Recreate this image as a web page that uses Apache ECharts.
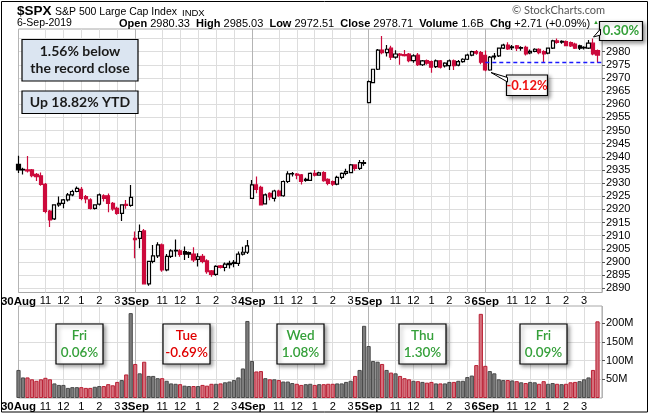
<!DOCTYPE html>
<html>
<head>
<meta charset="utf-8">
<title>$SPX 15 minute</title>
<script src="https://cdn.jsdelivr.net/npm/echarts@6/dist/echarts.min.js"></script>
<style>
  html, body { margin: 0; padding: 0; background: #fff; }
  #chart { width: 650px; height: 415px; }
</style>
</head>
<body>
<div id="chart"></div>
<script>
// Day / hour labels along the time axis (26 bars of 15 minutes per session)
const dayLabels = ['30Aug', '3Sep', '4Sep', '5Sep', '6Sep'];
const hourLabels = { 6: '11', 10: '12', 14: '1', 18: '2', 22: '3' };
const barsPerDay = 26;
const closeAug29 = 2924.58;

// 15-minute candles: [open, close, low, high]
const ohlcAug30 = [
    [2937.1, 2935.0, 2933.8, 2940.4], [2935.2, 2935.0, 2933.3, 2935.8], [2935.0, 2934.6, 2934.0, 2940.3],
    [2935.0, 2932.8, 2932.2, 2935.4], [2933.3, 2932.5, 2930.8, 2933.8], [2932.8, 2929.5, 2929.0, 2934.0],
    [2929.5, 2919.2, 2918.5, 2930.0], [2919.4, 2916.0, 2913.3, 2919.8], [2916.4, 2921.7, 2916.0, 2922.0],
    [2921.7, 2922.3, 2921.0, 2924.9], [2922.3, 2923.6, 2920.4, 2924.0], [2923.6, 2925.5, 2923.0, 2926.2],
    [2925.5, 2926.8, 2925.0, 2927.5], [2926.8, 2928.0, 2926.5, 2928.7], [2927.6, 2924.2, 2923.5, 2928.5],
    [2924.9, 2924.0, 2922.3, 2925.5], [2923.6, 2920.4, 2920.0, 2924.2], [2920.4, 2921.7, 2920.0, 2922.0],
    [2922.0, 2925.5, 2921.5, 2926.0], [2925.2, 2924.2, 2923.0, 2925.8], [2925.2, 2922.3, 2918.9, 2926.0],
    [2922.3, 2920.2, 2919.5, 2922.8], [2920.4, 2918.5, 2918.0, 2921.0], [2918.5, 2921.7, 2915.6, 2922.0],
    [2921.9, 2921.5, 2920.2, 2923.6], [2921.5, 2924.6, 2921.0, 2929.3]
];
const ohlcSep3 = [
    [2909.0, 2908.5, 2901.4, 2911.6], [2909.0, 2911.6, 2905.2, 2914.3], [2911.8, 2891.7, 2891.5, 2912.5],
    [2891.7, 2900.2, 2891.0, 2900.5], [2900.2, 2902.3, 2899.5, 2906.5], [2902.3, 2906.5, 2901.5, 2907.5],
    [2906.5, 2897.0, 2896.3, 2907.0], [2897.0, 2902.1, 2896.5, 2903.0], [2902.1, 2904.2, 2901.5, 2904.8],
    [2904.2, 2904.4, 2902.0, 2908.6], [2904.2, 2902.9, 2902.0, 2904.8], [2904.0, 2903.0, 2900.8, 2905.9],
    [2903.6, 2903.0, 2901.5, 2904.0], [2903.0, 2900.8, 2900.0, 2905.6], [2901.0, 2902.0, 2898.3, 2903.3],
    [2902.1, 2900.2, 2899.5, 2903.0], [2900.4, 2896.3, 2895.5, 2901.0], [2896.6, 2895.3, 2894.4, 2897.0],
    [2895.3, 2898.3, 2894.8, 2898.8], [2898.5, 2897.9, 2897.5, 2898.9], [2897.9, 2899.2, 2896.5, 2899.8],
    [2899.0, 2899.5, 2897.5, 2900.5], [2899.5, 2899.9, 2898.0, 2900.8], [2899.5, 2903.0, 2898.5, 2904.0],
    [2903.0, 2903.7, 2902.5, 2905.8], [2903.7, 2906.1, 2903.0, 2908.4]
];
const ohlcSep4 = [
    [2924.2, 2929.3, 2924.0, 2931.2], [2929.3, 2927.6, 2926.1, 2932.5], [2928.4, 2921.7, 2921.5, 2929.0],
    [2922.1, 2925.5, 2921.9, 2926.0], [2926.1, 2924.8, 2923.5, 2926.5], [2924.2, 2927.0, 2923.0, 2927.5],
    [2927.0, 2925.2, 2924.8, 2927.5], [2925.2, 2930.6, 2924.8, 2931.0], [2930.6, 2933.5, 2930.0, 2934.5],
    [2933.5, 2933.6, 2932.5, 2934.2], [2933.4, 2933.0, 2931.5, 2933.8], [2933.1, 2930.6, 2929.5, 2933.5],
    [2931.4, 2931.0, 2930.5, 2932.0], [2931.0, 2933.7, 2930.8, 2934.0], [2933.7, 2933.0, 2932.5, 2935.0],
    [2933.0, 2933.9, 2932.8, 2934.3], [2934.0, 2930.9, 2930.5, 2934.5], [2931.4, 2929.9, 2929.2, 2931.8],
    [2930.6, 2929.6, 2928.9, 2931.0], [2929.6, 2932.2, 2929.2, 2932.8], [2932.2, 2933.7, 2931.5, 2934.0],
    [2933.7, 2934.4, 2933.0, 2935.5], [2934.0, 2936.9, 2933.7, 2937.3], [2936.9, 2935.6, 2934.7, 2937.2],
    [2935.6, 2937.8, 2935.0, 2938.8], [2937.5, 2937.8, 2936.6, 2938.8]
];
const ohlcSep5 = [
    [2960.6, 2968.6, 2960.6, 2969.0], [2968.2, 2973.3, 2968.0, 2973.5], [2973.3, 2980.6, 2973.0, 2981.0],
    [2980.6, 2979.6, 2979.0, 2985.9], [2979.6, 2980.9, 2978.1, 2982.5], [2981.3, 2977.9, 2976.8, 2982.2],
    [2977.9, 2979.1, 2977.3, 2980.5], [2979.1, 2978.7, 2975.0, 2979.5], [2978.9, 2978.5, 2978.1, 2980.6],
    [2979.1, 2976.6, 2976.0, 2979.5], [2976.6, 2978.4, 2975.8, 2979.0], [2978.7, 2975.0, 2974.5, 2979.5],
    [2975.0, 2976.5, 2974.5, 2976.8], [2976.6, 2975.6, 2975.0, 2977.0], [2976.2, 2974.1, 2972.0, 2976.6],
    [2974.3, 2976.5, 2973.8, 2977.0], [2976.5, 2974.1, 2973.6, 2976.8], [2974.6, 2975.6, 2974.0, 2976.0],
    [2974.7, 2976.5, 2973.0, 2977.0], [2976.5, 2974.7, 2973.0, 2977.0], [2974.9, 2976.2, 2974.4, 2976.8],
    [2976.2, 2977.1, 2975.8, 2977.5], [2977.1, 2978.7, 2976.8, 2979.2], [2978.7, 2980.0, 2978.2, 2980.3],
    [2980.0, 2979.4, 2978.8, 2980.6], [2979.6, 2976.0, 2975.2, 2980.2]
];
const ohlcSep6 = [
    [2978.6, 2973.0, 2972.5, 2980.4], [2973.0, 2977.9, 2972.7, 2978.3], [2978.0, 2978.3, 2977.0, 2979.5],
    [2978.4, 2981.3, 2978.0, 2981.5], [2981.3, 2982.5, 2981.0, 2983.0], [2982.5, 2981.0, 2980.6, 2983.6],
    [2981.5, 2981.8, 2980.6, 2982.5], [2982.2, 2981.3, 2980.2, 2982.5], [2981.5, 2981.3, 2980.3, 2982.0],
    [2981.6, 2979.1, 2978.5, 2982.2], [2979.5, 2980.1, 2979.0, 2980.8], [2980.1, 2980.9, 2979.8, 2981.3],
    [2980.9, 2979.6, 2979.0, 2981.3], [2980.0, 2979.1, 2975.8, 2980.5], [2979.4, 2981.3, 2979.0, 2981.6],
    [2981.3, 2984.1, 2981.0, 2984.5], [2984.1, 2983.5, 2983.0, 2985.0], [2983.6, 2983.9, 2983.0, 2984.3],
    [2983.8, 2982.3, 2982.0, 2984.2], [2983.4, 2982.2, 2981.8, 2983.8], [2982.9, 2981.3, 2981.0, 2983.4],
    [2982.2, 2981.3, 2980.6, 2982.6], [2981.4, 2981.6, 2980.8, 2982.0], [2981.3, 2983.2, 2981.0, 2984.4],
    [2983.2, 2979.1, 2978.6, 2985.0], [2980.4, 2978.7, 2975.8, 2980.8]
];

// volume per 15-minute bar, millions of shares
const volAug30 = [75, 55, 55, 50, 46, 50, 54, 50, 39, 35, 35, 27, 29, 29, 29, 27, 27, 30, 32, 32, 37, 34, 43, 48, 63, 227];
const volSep3 = [91, 66, 97, 59, 59, 53, 53, 46, 39, 38, 37, 33, 32, 32, 32, 35, 33, 38, 38, 39, 42, 44, 48, 55, 79, 206];
const volSep4 = [99, 71, 72, 53, 50, 50, 48, 44, 44, 40, 38, 35, 37, 38, 35, 37, 37, 38, 38, 39, 39, 43, 46, 59, 75, 193];
const volSep5 = [139, 99, 97, 91, 75, 68, 66, 59, 53, 50, 46, 45, 43, 41, 43, 39, 39, 39, 43, 43, 46, 46, 56, 60, 88, 225];
const volSep6 = [86, 72, 66, 50, 48, 48, 47, 45, 42, 40, 43, 42, 38, 45, 38, 40, 38, 37, 38, 42, 43, 45, 50, 55, 75, 205];

const priceTicks = [2890, 2895, 2900, 2905, 2910, 2915, 2920, 2925, 2930, 2935, 2940, 2945, 2950, 2955, 2960, 2965, 2970, 2975, 2980, 2985];
const volumeTicks = [50, 100, 150, 200];

const dayNames = ['Fri', 'Tue', 'Wed', 'Thu', 'Fri'];
const dayChanges = ['0.06%', '-0.69%', '1.08%', '1.30%', '0.09%'];

const chart = echarts.init(document.getElementById('chart'));

const ohlc = [].concat(ohlcAug30, ohlcSep3, ohlcSep4, ohlcSep5, ohlcSep6);
const volume = [].concat(volAug30, volSep3, volSep4, volSep5, volSep6);

const slots = [];
for (let i = 0; i <= ohlc.length; i++) slots.push('t' + i);

const RED = '#cc0a3c';
const FONT = '"Liberation Sans", Arial, sans-serif';
const NOTE_FONT = 'Lato, "Open Sans", sans-serif';

function prevCloseOf(i) {
    return i === 0 ? closeAug29 : ohlc[i - 1][1];
}

// stockcharts style: colour from close vs previous close, filled when close < open
const candleData = ohlc.map(function(d, i) {
    const line = d[1] < prevCloseOf(i) ? RED : '#000';
    const fill = d[1] < d[0] ? line : '#fff';
    return { value: d, itemStyle: { color: fill, color0: fill, borderColor: line, borderColor0: line } };
});

const volumeData = volume.map(function(v, i) {
    const down = ohlc[i][1] < prevCloseOf(i);
    return {
        value: v,
        itemStyle: down
            ? { color: '#d4707c', borderColor: '#b91f33' }
            : { color: '#7c7c7c', borderColor: '#4a4a4a' }
    };
});

function slotLabel(value, index) {
    const k = index % barsPerDay;
    const d = Math.floor(index / barsPerDay);
    if (k === 0) return dayLabels[d] ? '{d|' + dayLabels[d] + '}' : '';
    return hourLabels[k] ? '{h|' + hourLabels[k] + '}' : '';
}

function isGridSlot(index) {
    const k = index % barsPerDay;
    return k === 0 || hourLabels[k] !== undefined;
}

const dayLineColors = ['#b4b4b4', '#dddddd', '#dddddd', '#dddddd', '#dddddd', '#dddddd'];

function timeAxis(gridIndex) {
    return {
        type: 'category',
        gridIndex: gridIndex,
        data: slots,
        boundaryGap: false,
        axisLine: { show: false },
        axisTick: { show: false },
        axisLabel: {
            interval: 0,
            margin: 3,
            formatter: slotLabel,
            rich: {
                d: { fontFamily: FONT, fontWeight: 'bold', fontSize: 11.5, color: '#000' },
                h: { fontFamily: FONT, fontSize: 11, color: '#000' }
            }
        },
        splitLine: { show: true, interval: isGridSlot, lineStyle: { color: dayLineColors, width: 1 } }
    };
}

// previous session close and today's range versus it
const prevClose = ohlcSep5[ohlcSep5.length - 1][1];
const lowToday = Math.min.apply(null, ohlcSep6.map(d => d[2]));
const highToday = Math.max.apply(null, ohlcSep6.map(d => d[3]));
const pct = v => ((v - prevClose) / prevClose * 100).toFixed(2) + '%';

const greenText = '#35a03a';

function noteBox(x, y, w, h, fill, shadow) {
    const style = { fill: fill, stroke: '#000', lineWidth: 1.2 };
    if (shadow) {
        style.shadowBlur = 4;
        style.shadowOffsetX = 2;
        style.shadowOffsetY = 2;
        style.shadowColor = 'rgba(0,0,0,0.4)';
    }
    return { type: 'rect', z: 100, silent: true, shape: { x: x, y: y, width: w, height: h }, style: style };
}

function noteText(x, y, text, color, size, weight) {
    return {
        type: 'text', z: 101, silent: true, x: x, y: y,
        style: {
            text: text, fill: color, align: 'center', verticalAlign: 'middle',
            font: (weight || 'normal') + ' ' + size + 'px ' + NOTE_FONT
        }
    };
}

function headText(x, y, text, font, color) {
    return { type: 'text', z: 101, silent: true, x: x, y: y, style: { text: text, font: font, fill: color || '#000', verticalAlign: 'middle' } };
}

const graphics = [
    // outer frame
    { type: 'rect', z: 100, silent: true, shape: { x: 1.5, y: 1.5, width: 646, height: 410.5 }, style: { fill: 'none', stroke: '#000', lineWidth: 1 } },
    // header
    headText(17, 11.5, '$SPX', 'bold 13.5px ' + FONT),
    headText(55, 12.5, 'S&P 500 Large Cap Index', '10.5px ' + FONT),
    headText(182, 13, 'INDX', '9.5px ' + FONT),
    headText(17, 23.5, '6-Sep-2019', '10.5px ' + FONT),
    {
        type: 'text', z: 101, silent: true, x: 119, y: 23.5,
        style: {
            text: '{b|Open} 2980.33  {b|High} 2985.03  {b|Low} 2972.51  {b|Close} 2978.71  {b|Volume} 1.6B  {b|Chg} +2.71 (+0.09%)',
            font: '11px ' + FONT, fill: '#000', verticalAlign: 'middle',
            rich: { b: { font: 'bold 11px ' + FONT, fill: '#000' } }
        }
    },
    headText(593, 22, '\u25B2', '6px ' + FONT, '#2a9a2a'),
    headText(512, 10.5, '\u00A9 StockCharts.com', '11px ' + NOTE_FONT, '#555'),

    // notes top left
    noteBox(22, 39.5, 116, 41.5, '#dbe5f1', false),
    noteText(80, 51.5, '1.56% below', '#1a1a1a', 14, 'bold'),
    noteText(80, 68.5, 'the record close', '#1a1a1a', 14, 'bold'),
    noteBox(22, 91, 116, 22.5, '#dbe5f1', false),
    noteText(80, 102, 'Up 18.82% YTD', '#1a1a1a', 14, 'bold'),

    // low / high callouts versus previous close
    noteBox(506.5, 75, 41, 20.5, '#fff', true),
    { type: 'polygon', z: 102, silent: true, shape: { points: [[491, 72.5], [507.5, 77.5], [507.5, 82]] }, style: { fill: '#fff', stroke: '#000', lineWidth: 1 } },
    noteText(527, 85.5, pct(lowToday), '#ee1111', 13, 'bold'),
    noteBox(599.5, 21.5, 43, 19, '#fff', true),
    { type: 'polygon', z: 102, silent: true, shape: { points: [[593.5, 37], [600.5, 29], [600.5, 35]] }, style: { fill: '#fff', stroke: '#000', lineWidth: 1 } },
    noteText(621, 31, pct(highToday), greenText, 13, 'bold')
];

// daily change boxes in the volume panel
const dayBoxX = [56, 163, 277, 399, 520];
dayNames.forEach(function(name, i) {
    const color = dayChanges[i].charAt(0) === '-' ? '#e00000' : greenText;
    graphics.push(noteBox(dayBoxX[i], 324, 47, 40, '#fff', true));
    const t1 = noteText(dayBoxX[i] + 23.5, 335.5, name, color, 13.5, '600');
    const t2 = noteText(dayBoxX[i] + 23.5, 352.5, dayChanges[i], color, 13.5, '600');
    [t1, t2].forEach(function(t) {
        t.style.textShadowColor = 'rgba(215,205,40,0.7)';
        t.style.textShadowOffsetX = 0.8;
        t.style.textShadowOffsetY = 0.8;
    });
    graphics.push(t1, t2);
});

const option = {
    animation: false,
    backgroundColor: '#fff',
    grid: [
        { left: 18.5, right: 48, top: 29, height: 263.5, show: true, borderColor: '#a8a8a8', borderWidth: 1, outerBoundsMode: 'none' },
        { left: 18.5, right: 48, top: 306, height: 92, show: true, borderColor: '#a8a8a8', borderWidth: 1, outerBoundsMode: 'none' }
    ],
    xAxis: [timeAxis(0), timeAxis(1)],
    yAxis: [
        {
            type: 'value', gridIndex: 0, position: 'right',
            min: 2888.4, max: 2988.6,
            axisLine: { show: false },
            axisTick: { show: true, length: 3, customValues: priceTicks, lineStyle: { color: '#555' } },
            axisLabel: { customValues: priceTicks, margin: 4, color: '#000', fontFamily: FONT, fontSize: 11, formatter: v => String(v) },
            splitLine: { show: true, lineStyle: { color: '#dddddd' } }
        },
        {
            type: 'value', gridIndex: 1, position: 'right',
            min: 0, max: 246,
            axisLine: { show: false },
            axisTick: { show: true, length: 3, customValues: volumeTicks, lineStyle: { color: '#555' } },
            axisLabel: { customValues: volumeTicks, margin: 4, color: '#000', fontFamily: FONT, fontSize: 11, formatter: v => v + 'M' },
            splitLine: { show: true, lineStyle: { color: '#dddddd' } }
        }
    ],
    series: [
        {
            name: '$SPX',
            type: 'candlestick',
            xAxisIndex: 0,
            yAxisIndex: 0,
            data: candleData,
            barWidth: 3.6,
            itemStyle: { borderWidth: 1.2 },
            markLine: {
                silent: true,
                symbol: ['none', 'none'],
                label: { show: false },
                lineStyle: { color: '#1a1aff', type: [4, 3], width: 1.3 },
                data: [[{ coord: [4 * barsPerDay, prevClose] }, { coord: [ohlc.length, prevClose] }]]
            }
        },
        {
            name: 'Volume',
            type: 'bar',
            xAxisIndex: 1,
            yAxisIndex: 1,
            data: volumeData,
            barWidth: 4.2,
            itemStyle: { borderWidth: 1 }
        }
    ],
    graphic: graphics
};

chart.setOption(option);
</script>
</body>
</html>
